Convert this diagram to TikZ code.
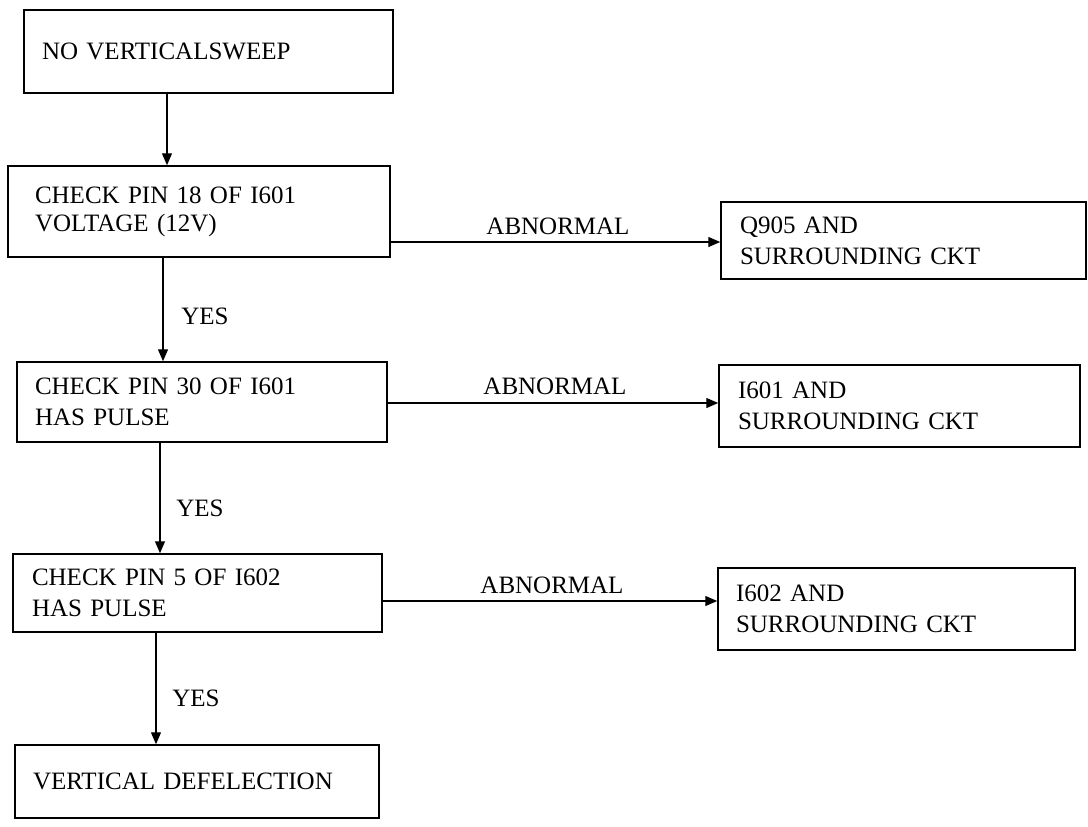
\documentclass[tikz,border=0pt]{standalone}
\usepackage{fontspec}
\setmainfont{Liberation Serif}
\usetikzlibrary{arrows.meta}
\tikzset{
  box/.style={draw, line width=1.5pt, rectangle, align=left, inner ysep=0pt,
    font=\fontsize{25}{31}\selectfont},
  lbl/.style={inner sep=0pt, font=\fontsize{25}{31}\selectfont},
  arr/.style={line width=1.3pt, -{Triangle[length=12pt,width=10pt]}}
}
\begin{document}
\begin{tikzpicture}[x=1pt,y=-1pt]
\useasboundingbox (0,0) rectangle (1088,827);
% left column
\node[box, inner xsep=18pt, text width=333pt, minimum height=83pt] (b1) at (208.5,51.5) {NO VERTICALSWEEP};
\node[box, inner xsep=27pt, text width=328pt, minimum height=91pt] (b2) at (199,211.5) {CHECK PIN 18 OF I601\\[-3pt]VOLTAGE (12V)};
\node[box, inner xsep=18pt, text width=334pt, minimum height=80pt] (b4) at (202,402) {CHECK PIN 30 OF I601\\HAS PULSE};
\node[box, inner xsep=19pt, text width=331pt, minimum height=78pt] (b6) at (197.5,593) {CHECK PIN 5 OF I602\\HAS PULSE};
\node[box, inner xsep=18pt, text width=328pt, minimum height=73pt] (b8) at (197,781.5) {VERTICAL DEFELECTION};
% right column
\node[box, inner xsep=19pt, text width=327pt, minimum height=77pt] (b3) at (903.5,240.5) {Q905 AND\\SURROUNDING CKT};
\node[box, inner xsep=19pt, text width=323pt, minimum height=82pt] (b5) at (899.5,406) {I601 AND\\SURROUNDING CKT};
\node[box, inner xsep=18pt, text width=321pt, minimum height=82pt] (b7) at (896.5,609) {I602 AND\\SURROUNDING CKT};
% guide coordinates
\coordinate (v1) at (167,0);
\coordinate (v2) at (163,0);
\coordinate (v3) at (160,0);
\coordinate (v4) at (156,0);
\coordinate (h1) at (0,242);
\coordinate (h2) at (0,403);
\coordinate (h3) at (0,601);
% vertical connectors
\draw[arr] (b1.south -| v1) -- (b2.north -| v1);
\draw[arr] (b2.south -| v2) -- (b4.north -| v2);
\draw[arr] (b4.south -| v3) -- (b6.north -| v3);
\draw[arr] (b6.south -| v4) -- (b8.north -| v4);
% horizontal connectors
\draw[arr] (b2.east |- h1) -- (b3.west |- h1);
\draw[arr] (b4.east |- h2) -- (b5.west |- h2);
\draw[arr] (b6.east |- h3) -- (b7.west |- h3);
% labels
\node[lbl] (l1) at (558,226) {ABNORMAL};
\node[lbl] (l2) at (555,386) {ABNORMAL};
\node[lbl] (l3) at (552,585) {ABNORMAL};
\node[lbl] (y1) at (205,316) {YES};
\node[lbl] (y2) at (200,508) {YES};
\node[lbl] (y3) at (196,698) {YES};
\end{tikzpicture}
\end{document}
